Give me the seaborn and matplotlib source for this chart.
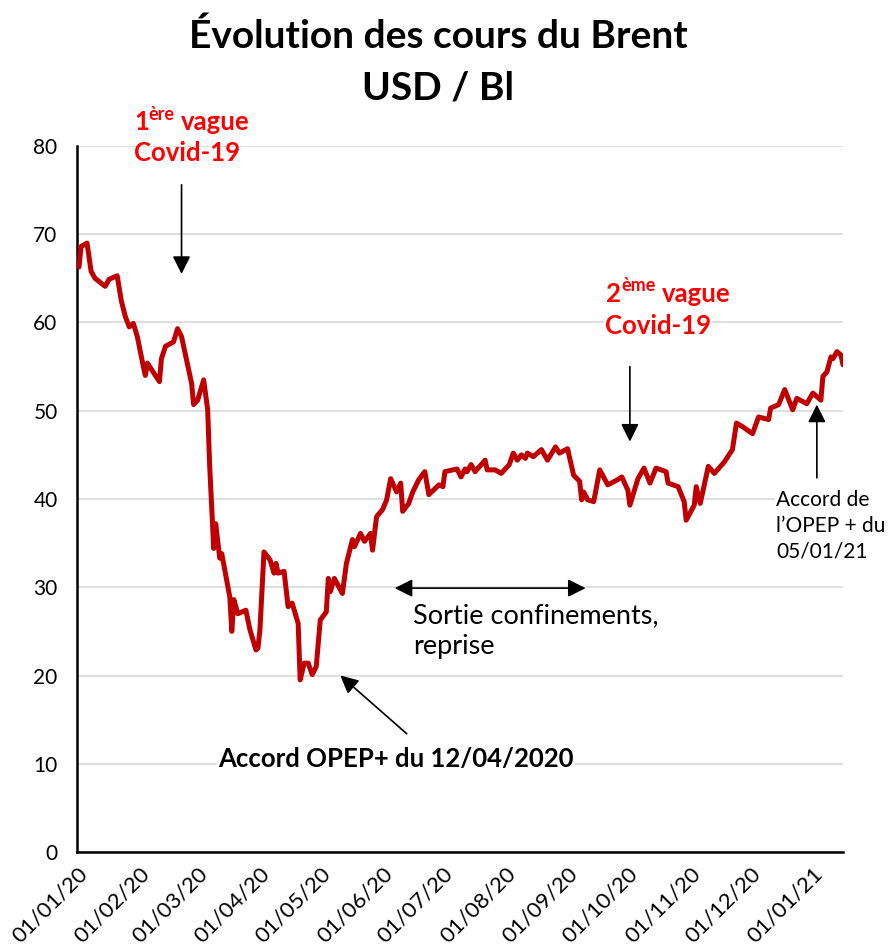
"""Brent crude price chart, 2020 - early 2021."""

import matplotlib
matplotlib.use("Agg")
import matplotlib.dates as mdates
import matplotlib.pyplot as plt
import pandas as pd
import seaborn as sns

W, H = 888, 947

DATES = [
    "2020-01-02", "2020-01-03", "2020-01-06", "2020-01-08", "2020-01-10",
    "2020-01-15", "2020-01-17", "2020-01-21", "2020-01-23", "2020-01-25",
    "2020-01-27", "2020-01-29", "2020-01-31", "2020-02-03", "2020-02-04",
    "2020-02-05", "2020-02-11", "2020-02-12", "2020-02-14", "2020-02-18",
    "2020-02-20", "2020-02-22", "2020-02-24", "2020-02-27", "2020-02-28",
    "2020-03-01", "2020-03-04", "2020-03-06", "2020-03-07", "2020-03-09",
    "2020-03-10", "2020-03-12", "2020-03-13", "2020-03-17", "2020-03-18",
    "2020-03-19", "2020-03-21", "2020-03-25", "2020-03-27", "2020-03-30",
    "2020-03-31", "2020-04-01", "2020-04-03", "2020-04-06", "2020-04-08",
    "2020-04-09", "2020-04-10", "2020-04-13", "2020-04-15", "2020-04-17",
    "2020-04-20", "2020-04-21", "2020-04-23", "2020-04-25", "2020-04-27",
    "2020-04-29", "2020-05-01", "2020-05-04", "2020-05-05", "2020-05-06",
    "2020-05-08", "2020-05-12", "2020-05-14", "2020-05-17", "2020-05-18",
    "2020-05-21", "2020-05-23", "2020-05-26", "2020-05-27", "2020-05-29",
    "2020-06-01", "2020-06-03", "2020-06-05", "2020-06-08", "2020-06-10",
    "2020-06-11", "2020-06-14", "2020-06-16", "2020-06-19", "2020-06-22",
    "2020-06-24", "2020-06-29", "2020-07-01", "2020-07-02", "2020-07-08",
    "2020-07-10", "2020-07-12", "2020-07-13", "2020-07-15", "2020-07-17",
    "2020-07-22", "2020-07-23", "2020-07-27", "2020-07-30", "2020-08-03",
    "2020-08-05", "2020-08-07", "2020-08-09", "2020-08-11", "2020-08-12",
    "2020-08-15", "2020-08-19", "2020-08-22", "2020-08-26", "2020-08-28",
    "2020-09-01", "2020-09-04", "2020-09-07", "2020-09-08", "2020-09-09",
    "2020-09-11", "2020-09-14", "2020-09-17", "2020-09-21", "2020-09-26",
    "2020-09-28", "2020-10-01", "2020-10-02", "2020-10-06", "2020-10-09",
    "2020-10-12", "2020-10-15", "2020-10-20", "2020-10-21", "2020-10-26",
    "2020-10-29", "2020-10-30", "2020-11-03", "2020-11-04", "2020-11-06",
    "2020-11-10", "2020-11-13", "2020-11-18", "2020-11-22", "2020-11-24",
    "2020-11-27", "2020-12-02", "2020-12-05", "2020-12-10", "2020-12-11",
    "2020-12-15", "2020-12-18", "2020-12-22", "2020-12-24", "2020-12-29",
    "2021-01-01", "2021-01-05", "2021-01-06", "2021-01-08", "2021-01-10",
    "2021-01-11", "2021-01-13", "2021-01-15", "2021-01-16",
]

PRICES = [
    66.3, 68.6, 69.0, 65.8, 65.0,
    64.1, 64.9, 65.3, 62.5, 60.7,
    59.5, 59.9, 58.4, 55.0, 54.0,
    55.4, 53.3, 55.9, 57.3, 57.8,
    59.3, 58.4, 56.3, 53.1, 50.7,
    51.2, 53.5, 50.1, 43.7, 34.4,
    37.2, 33.3, 33.8, 28.9, 25.0,
    28.6, 27.0, 27.4, 25.2, 22.9,
    23.1, 25.2, 34.0, 33.1, 31.6,
    32.7, 31.6, 31.8, 27.8, 28.2,
    25.9, 19.5, 21.4, 21.4, 20.1,
    21.0, 26.3, 27.2, 31.0, 29.5,
    31.0, 29.3, 32.7, 35.4, 34.6,
    36.1, 35.2, 36.1, 34.2, 38.0,
    38.8, 39.9, 42.3, 40.8, 41.8,
    38.6, 39.5, 40.8, 42.2, 43.1,
    40.5, 41.6, 41.4, 43.1, 43.4,
    42.5, 43.4, 43.1, 43.9, 43.1,
    44.4, 43.3, 43.3, 42.9, 43.9,
    45.2, 44.4, 45.0, 44.6, 45.2,
    44.8, 45.6, 44.4, 45.9, 45.2,
    45.7, 42.7, 42.0, 39.9, 40.8,
    39.9, 39.7, 43.3, 41.6, 42.2,
    42.5, 41.0, 39.3, 42.3, 43.5,
    41.8, 43.5, 43.1, 41.8, 41.4,
    39.7, 37.6, 39.3, 41.4, 39.5,
    43.7, 42.9, 44.2, 45.6, 48.6,
    48.2, 47.4, 49.3, 49.0, 50.3,
    50.7, 52.4, 50.1, 51.4, 50.8,
    52.0, 51.2, 53.9, 54.4, 56.1,
    55.9, 56.7, 56.3, 55.2,
]

Y_TICKS = [0, 10, 20, 30, 40, 50, 60, 70, 80]
X_TICKS = pd.date_range("2020-01-01", "2021-01-01", freq="MS")

RED_LINE = "#C00000"
RED_TEXT = "#FF0000"


def fig_xy(px, py):
    return px / W, 1 - py / H


def d(day):
    return mdates.date2num(pd.Timestamp(day))


def main() -> None:
    sns.set_theme(style="white")
    plt.rcParams["font.family"] = ["Lato", "DejaVu Sans"]
    plt.rcParams["text.color"] = "black"

    fig = plt.figure(figsize=(W / 100, H / 100), dpi=100)
    ax = fig.add_axes([77 / W, 1 - 852 / H, (843 - 77) / W, (852 - 146) / H])

    df = pd.DataFrame({"date": pd.to_datetime(DATES), "price": PRICES})
    sns.lineplot(data=df, x="date", y="price", ax=ax, color=RED_LINE,
                 linewidth=3.6, zorder=3)

    ax.set_ylim(0, 80)
    ax.set_xlim(d("2020-01-01"), d("2021-01-16"))
    ax.set_yticks(Y_TICKS)
    ax.set_xticks(X_TICKS)
    ax.xaxis.set_major_formatter(mdates.DateFormatter("%d/%m/%y"))
    ax.set_xlabel("")
    ax.set_ylabel("")
    ax.yaxis.grid(True, color="#d9d9d9", linewidth=1.2)
    ax.xaxis.grid(False)
    for side in ("top", "right"):
        ax.spines[side].set_visible(False)
    for side in ("left", "bottom"):
        ax.spines[side].set_color("black")
        ax.spines[side].set_linewidth(1.8)
    ax.tick_params(axis="both", direction="out", length=5, width=1.5,
                   color="black", labelcolor="black")
    ax.tick_params(axis="y", pad=9, labelsize=15)
    ax.tick_params(axis="x", pad=3, labelsize=16)
    for lbl in ax.get_xticklabels():
        lbl.set_rotation(45)
        lbl.set_ha("right")
        lbl.set_rotation_mode("anchor")

    # title
    fig.text(*fig_xy(438, 36), "Évolution des cours du Brent", ha="center",
             va="center", fontsize=28, fontweight="bold")
    fig.text(*fig_xy(438, 88), "USD / Bl", ha="center", va="center",
             fontsize=28, fontweight="bold")

    # 1ere vague
    red = dict(color=RED_TEXT, fontweight="bold", va="baseline")
    fig.text(*fig_xy(134, 130), "1", fontsize=18.5, **red)
    fig.text(*fig_xy(148, 120), "ère", fontsize=13, **red)
    fig.text(*fig_xy(181, 130), "vague", fontsize=18.5, **red)
    fig.text(*fig_xy(134, 161), "Covid-19", fontsize=18.5, **red)

    # 2eme vague
    box = dict(facecolor="white", edgecolor="none", pad=1)
    fig.text(*fig_xy(606, 302), "2", fontsize=18.5, bbox=box, **red)
    fig.text(*fig_xy(621, 291), "ème", fontsize=13, **red)
    fig.text(*fig_xy(662, 302), "vague", fontsize=18.5, bbox=box, **red)
    fig.text(*fig_xy(605, 334), "Covid-19", fontsize=18.5, bbox=box, **red)

    fig.text(*fig_xy(413, 623), "Sortie confinements,", fontsize=19.5,
             va="baseline")
    fig.text(*fig_xy(413, 654), "reprise", fontsize=19.5, va="baseline")

    fig.text(*fig_xy(218, 767), "Accord OPEP+ du 12/04/2020", fontsize=18.5,
             fontweight="bold", va="baseline", bbox=box)

    fig.text(*fig_xy(776, 490), "Accord de\nl\u2019OPEP + du\n05/01/21",
             fontsize=15, va="top", linespacing=1.35, bbox=box)

    # arrows
    head = dict(arrowstyle="-|>,head_length=0.6,head_width=0.3",
                mutation_scale=18, color="black", lw=1.2,
                shrinkA=0, shrinkB=0)
    ax.annotate("", xy=(d("2020-02-22"), 65.5), xytext=(d("2020-02-22"), 75.6),
                arrowprops=head, annotation_clip=False)
    ax.annotate("", xy=(d("2020-10-02"), 46.5), xytext=(d("2020-10-02"), 55.0),
                arrowprops=head)
    ax.annotate("", xy=(d("2021-01-03"), 50.7), xytext=(d("2021-01-03"), 42.4),
                arrowprops=head)
    ax.annotate("", xy=(d("2020-05-11"), 20.0), xytext=(d("2020-06-13"), 13.4),
                arrowprops=head)
    both = dict(head, arrowstyle="<|-|>,head_length=0.6,head_width=0.3")
    ax.annotate("", xy=(d("2020-09-10"), 29.9), xytext=(d("2020-06-07"), 29.9),
                arrowprops=both)

    fig.savefig("out.png", dpi=100)


if __name__ == "__main__":
    main()
